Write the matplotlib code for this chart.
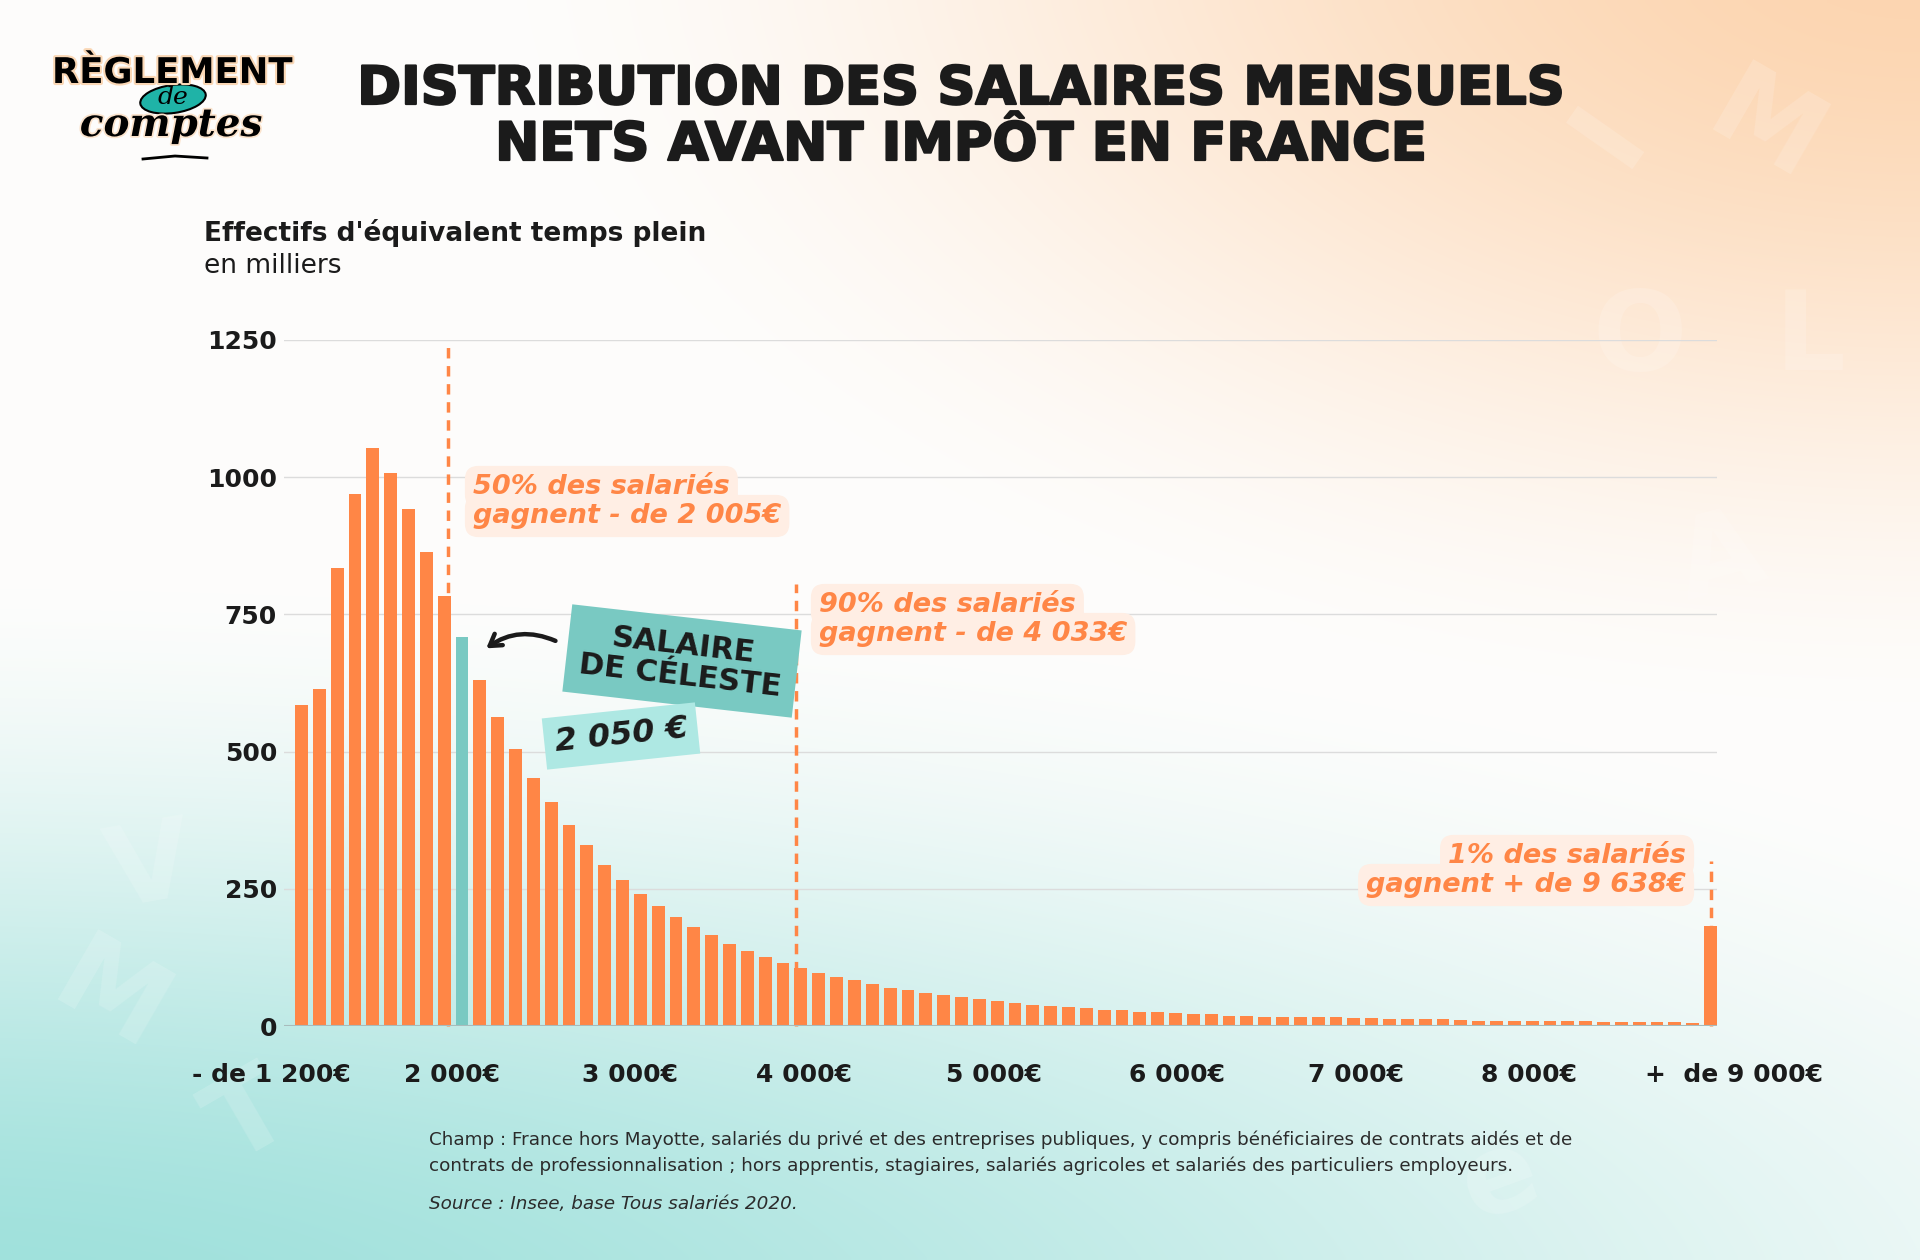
import numpy as np
import matplotlib
matplotlib.use('Agg')
import matplotlib.pyplot as plt
from matplotlib.patches import Ellipse
import matplotlib.patheffects as pe
import matplotlib.transforms as mtransforms

W, H = 1920, 1260

# effectifs (milliers) par tranche de 100 EUR, de "- de 1 200" a "+ de 9 000"
values = [585, 614, 835, 969, 1053, 1008, 942, 863, 783, 708,
          630, 563, 505, 452, 408, 366, 330, 293, 266, 241,
          219, 198, 180, 165, 150, 137, 125, 114, 106, 97,
          89, 83, 76, 70, 66, 60, 56, 52, 49, 45,
          42, 39, 36, 35, 32, 30, 29, 26, 25, 24,
          22, 21, 19, 19, 17, 16, 16, 16, 16, 15,
          14, 13, 12, 12, 12, 11, 10, 10, 10, 10,
          10, 9, 9, 7, 7, 7, 7, 7, 6, 183]
celeste_bin = 9          # tranche 2 000 - 2 100 EUR

xtick_pos = [-1.7, 8.45, 18.4, 28.2, 38.8, 49.1, 59.1, 68.8, 80.3]
xtick_labels = ["- de 1 200€", "2 000€", "3 000€", "4 000€", "5 000€",
                "6 000€", "7 000€", "8 000€", "+  de 9 000€"]
ytick_vals = [0, 250, 500, 750, 1000, 1250]

# lignes de reperes (position en barres, hauteur du trait)
ref_x = [8.2, 27.7, 79.0]
ref_top = [1240, 805, 300]
ref_texts = [("50% des salariés", "gagnent - de 2 005€"),
             ("90% des salariés", "gagnent - de 4 033€"),
             ("1% des salariés", "gagnent + de 9 638€")]

ORANGE = '#FF8646'
TEAL = '#79C9C2'
DARK = '#1b1b1b'


def smooth(a):
    a = np.clip(a, 0, 1)
    return a * a * (3 - 2 * a)


fig = plt.figure(figsize=(19.2, 12.6), dpi=100)

# --- background gradient ---
bg = fig.add_axes([0, 0, 1, 1], zorder=-10)
gx, gy = np.meshgrid(np.linspace(0, 1, 384), np.linspace(0, 1, 252))
p = smooth(1 - np.sqrt(((gx - 1.0) / 0.78) ** 2 + ((gy + 0.05) / 0.65) ** 2))
t = smooth(1 - np.sqrt(((gx + 0.05) / 1.5) ** 2 + ((gy - 1.05) / 0.62) ** 2))
white = np.array([0.996, 0.992, 0.988])
peach = np.array([0.99, 0.835, 0.69])
teal = np.array([0.62, 0.88, 0.86])
w = np.clip(1 - p - t, 0, 1)
img = np.clip(w[..., None] * white + p[..., None] * peach + t[..., None] * teal, 0, 1)
bg.imshow(img, extent=(0, W, H, 0), aspect='auto', interpolation='bilinear')
bg.set_xlim(0, W)
bg.set_ylim(H, 0)
bg.axis('off')

# faint decorative letters
deco = [("M", 1765, 130, -30), ("I", 1610, 135, 55), ("A", 1720, 560, 15),
        ("L", 1810, 340, 0), ("O", 1640, 340, 0),
        ("M", 110, 1000, -30), ("T", 250, 1120, 30), ("V", 150, 870, 10),
        ("e", 1500, 1180, 20)]
for ch, dx, dy, rot in deco:
    bg.text(dx, dy, ch, fontsize=80, fontweight='bold', color='white',
            alpha=0.16, rotation=rot, ha='center', va='center')

# --- chart ---
ax = fig.add_axes([284 / W, 1 - 1026 / H, (1717 - 284) / W, (1026 - 340) / H])
ax.set_facecolor('none')
x = np.arange(len(values))
colors = [TEAL if i == celeste_bin else ORANGE for i in x]
ax.bar(x, values, width=0.72, color=colors, zorder=3)
ax.set_yticks(ytick_vals)
ax.set_yticklabels([str(v) for v in ytick_vals], fontsize=18,
                   fontweight='bold', color=DARK)
ax.set_xticks([])
ax.tick_params(axis='y', length=0, pad=5)
ax.grid(axis='y', color='#DCDCDC', lw=1, zorder=0)
ax.axhline(0, color='#A8BCBC', lw=1.5, zorder=4)
for s in ax.spines.values():
    s.set_visible(False)

# x labels: placed under the axis at data x positions
xlab_tr = mtransforms.blended_transform_factory(ax.transData, ax.transAxes)
for xp, lab in zip(xtick_pos, xtick_labels):
    ax.text(xp, -0.071, lab, transform=xlab_tr, ha='center', va='center',
            fontsize=18, fontweight='bold', color=DARK, clip_on=False)

for rx, rt in zip(ref_x, ref_top):
    ax.plot([rx, rx], [0, rt], color=ORANGE, lw=2.5, ls=(0, (3, 2.2)),
            zorder=2, clip_on=False)
ax.set_xlim(-0.98, 79.36)
ax.set_ylim(0, 1250)

# --- overlay (texts in pixel coords) ---
ov = fig.add_axes([0, 0, 1, 1], zorder=10)
ov.set_xlim(0, W)
ov.set_ylim(H, 0)
ov.axis('off')

title_fx = [pe.withStroke(linewidth=1.6, foreground=DARK)]
ov.text(961, 89, "DISTRIBUTION DES SALAIRES MENSUELS", ha='center', va='center',
        fontsize=38, fontweight='bold', color=DARK, path_effects=title_fx)
ov.text(961, 145, "NETS AVANT IMPÔT EN FRANCE", ha='center', va='center',
        fontsize=38, fontweight='bold', color=DARK, path_effects=title_fx)

ov.text(204, 233, "Effectifs d'équivalent temps plein", ha='left', va='center',
        fontsize=19, fontweight='bold', color=DARK)
ov.text(204, 266, "en milliers", ha='left', va='center', fontsize=19, color=DARK)

# logo
ov.text(172, 73, "RÈGLEMENT", ha='center', va='center', fontsize=25.5,
        fontweight='bold', color='black',
        path_effects=[pe.withStroke(linewidth=3, foreground='#FAD7B5')])
ov.add_patch(Ellipse((173, 99), 66, 28, angle=-8, fc='#1FB3A7', ec='black', lw=1.5))
ov.text(173, 98, "de", ha='center', va='center', fontsize=18, family='DejaVu Serif',
        style='italic', color='black')
ov.text(171, 125, "comptes", ha='center', va='center', fontsize=28,
        family='DejaVu Serif', style='italic', fontweight='bold', color='black',
        path_effects=[pe.withStroke(linewidth=2.5, foreground='#FBE3CC')])
ov.plot([143, 175, 207], [159, 156, 158], color='black', lw=2)

# reference annotations
ann_box = dict(boxstyle='round,pad=0.3,rounding_size=0.5', fc='#FFEEE4', ec='none')
pos = [(473, 487, 'left'), (819, 605, 'left'), (1686, 856, 'right')]
for (tx, ty, ha), (l1, l2) in zip(pos, ref_texts):
    for k, line in enumerate((l1, l2)):
        ov.text(tx, ty + 29 * k, line, ha=ha, va='center', fontsize=19.5,
                fontweight='bold', style='italic', color=ORANGE, bbox=ann_box)

# Celeste labels
ov.text(682, 661, "SALAIRE\nDE CÉLESTE", ha='center', va='center', rotation=-6.5,
        rotation_mode='anchor', fontsize=22, fontweight='bold', color=DARK,
        linespacing=1.1, multialignment='center',
        bbox=dict(boxstyle='square,pad=0.45', fc=TEAL, ec='none'))
ov.text(621, 736, "2 050 €", ha='center', va='center', rotation=6,
        rotation_mode='anchor', fontsize=23, fontweight='bold', style='italic',
        color=DARK, bbox=dict(boxstyle='square,pad=0.32', fc='#AEE8E3', ec='none'))
ov.annotate('', xy=(484, 650), xytext=(558, 642), xycoords='data',
            arrowprops=dict(arrowstyle='->,head_length=0.8,head_width=0.5',
                            lw=3.2, color=DARK, connectionstyle='arc3,rad=0.3'))

# footer
foot = dict(ha='left', va='center', fontsize=13.2, color='#2b2b2b')
ov.text(429, 1140, "Champ : France hors Mayotte, salariés du privé et des entreprises "
        "publiques, y compris bénéficiaires de contrats aidés et de", **foot)
ov.text(429, 1166, "contrats de professionnalisation ; hors apprentis, stagiaires, "
        "salariés agricoles et salariés des particuliers employeurs.", **foot)
ov.text(429, 1204, "Source : Insee, base Tous salariés 2020.", style='italic', **foot)

fig.savefig('out.png', dpi=100)
